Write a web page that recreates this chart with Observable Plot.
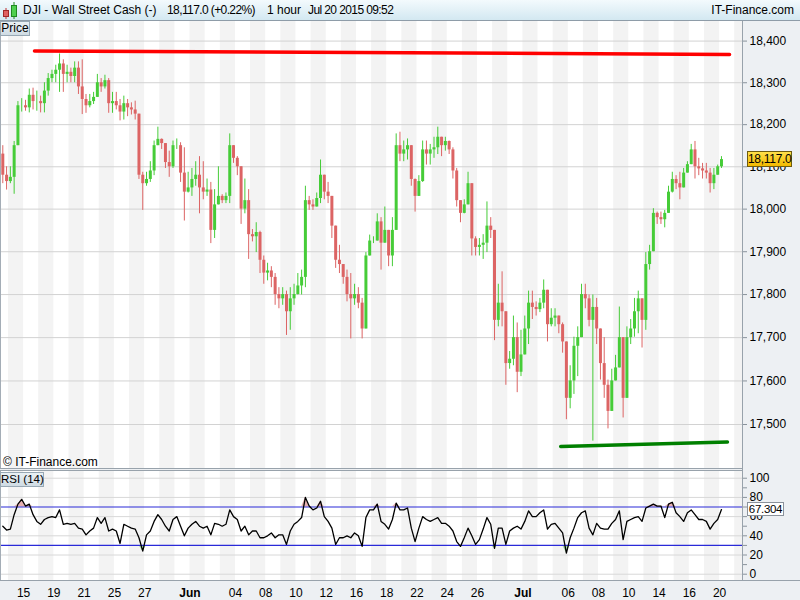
<!DOCTYPE html>
<html><head><meta charset="utf-8">
<script src="https://cdn.jsdelivr.net/npm/d3@7"></script>
<script src="https://cdn.jsdelivr.net/npm/@observablehq/plot@0.6"></script>
<style>
body{margin:0;width:800px;height:600px;position:relative;overflow:hidden;background:#fff;font-family:"Liberation Sans",Arial,sans-serif;color:#000;}
.abs{position:absolute;}
#hdr{left:0;top:0;width:800px;height:21px;background:linear-gradient(#f3fafd,#d3e8f1);border-bottom:1px solid #8e9ca8;box-sizing:border-box;font-size:12px;}
#hdr span{position:absolute;top:3px;white-space:pre;}
#hdr span.num{letter-spacing:-0.6px;}
#rpanel{left:742px;top:21px;width:58px;height:579px;background:#edf0f3;border-left:1px solid #98a2ab;box-sizing:border-box;}
#bpanel{left:0;top:580px;width:800px;height:20px;background:#edf0f3;border-top:1px solid #98a2ab;box-sizing:border-box;}
#lborder{left:0;top:21px;width:1px;height:559px;background:#a4adb6;}
#divider{left:0;top:468px;width:742px;height:3px;border-top:1px solid #98a2ab;border-bottom:1px solid #98a2ab;box-sizing:border-box;background:#edf0f3;}
.box{font-size:12px;background:linear-gradient(#eaf1f5,#cfdbe3);border:1px solid #98a8b4;box-sizing:border-box;text-align:center;line-height:13px;white-space:nowrap;}
#pricetag{left:747px;top:151px;width:45px;height:16px;background:linear-gradient(#ffe04a,#f2b900);border:1px solid #6e5c10;box-sizing:border-box;font-size:12px;line-height:14px;text-align:center;letter-spacing:-0.3px;}
#rsitag{left:747px;top:502px;width:37px;height:14px;background:#fff;border:1px solid #8a929b;box-sizing:border-box;font-size:11.5px;line-height:12px;text-align:center;letter-spacing:-0.3px;}
#copy{left:3px;top:455px;font-size:12px;}
</style></head>
<body>
<div id="rpanel" class="abs"></div>
<div id="bpanel" class="abs"></div>
<div id="main" class="abs" style="left:0;top:20px;"></div>
<div id="rsi" class="abs" style="left:0;top:471px;"></div>
<div id="lborder" class="abs"></div>
<div id="divider" class="abs"></div>
<div id="hdr" class="abs">
  <svg class="abs" style="left:2px;top:1px" width="18" height="18">
    <line x1="4" y1="7" x2="4" y2="18" stroke="#c03030"/>
    <rect x="1.5" y="9.5" width="5" height="6" fill="#e06060" stroke="#a02828"/>
    <line x1="12" y1="1" x2="12" y2="18" stroke="#208a20"/>
    <rect x="9.5" y="4.5" width="5" height="11" fill="#4fd04f" stroke="#208a20"/>
  </svg>
  <span style="left:23px">DJI - Wall Street Cash (-)</span>
  <span class="num" style="left:167px">18,117.0 (+0.22%)</span>
  <span style="left:267px">1 hour</span>
  <span class="num" style="left:308px">Jul 20 2015 09:52</span>
  <span style="right:6px">IT-Finance.com</span>
</div>
<div class="abs box" style="left:0;top:21px;width:30px;height:15px;">Price</div>
<div class="abs box" style="left:0;top:472px;width:44px;height:15px;font-size:11.5px;">RSI (14)</div>
<div id="copy" class="abs">© IT-Finance.com</div>
<div id="pricetag" class="abs">18,117.0</div>
<div id="rsitag" class="abs">67.304</div>
<script>
// ---- data (6-hour bars; trading-day index, 0 = May 15) ----
const firstBarT = -1.375;   // first bar position on the trading-day axis
const barStep = 0.25;       // 4 bars per trading day
const firstOpen = 18130;
const closes = [18080,18065,18075,18150,18245,18245,18240,18270,18255,18255,18250,18280,18310,18320,18330,18345,18320,18325,18315,18335,18290,18260,18245,18255,18265,18300,18290,18305,18250,18255,18245,18230,18250,
18240,18235,18225,18080,18060,18070,18090,18150,18165,18155,18110,18100,18150,18150,18085,18040,18050,18070,18080,18050,18040,18045,17950,18010,18030,18020,18030,18150,18120,18100,18000,18020,
17940,17935,17945,17880,17850,17855,17840,17800,17790,17800,17760,17790,17800,17820,17840,18020,18010,18005,18025,18080,18040,18030,17960,17880,17870,17840,17800,17790,17800,17780,17720,
17890,17925,17925,17970,17920,17950,17890,17950,18150,18130,18140,18150,18070,18030,18065,18140,18130,18140,18145,18170,18150,18160,18140,18090,18020,17990,18010,18060,17930,17910,17915,17920,
17960,17950,17740,17780,17760,17640,17650,17700,17620,17660,17720,17780,17770,17765,17780,17810,17730,17745,17750,17730,17690,17560,17600,17680,17700,17800,17790,17740,17770,17720,17640,17590,
17530,17600,17630,17700,17560,17700,17720,17760,17790,17740,17870,17900,17990,17980,17975,17990,18040,18070,18060,18050,18085,18105,18140,18100,18095,18090,18085,18060,18080,18100,18117];
const highs = [18150,18100,18100,18160,18255,18262,18258,18285,18287,18280,18268,18300,18322,18330,18342,18369,18355,18342,18335,18350,18350,18355,18272,18272,18277,18320,18310,18318,18310,18277,18277,18260,18268,
18260,18252,18256,18223,18087,18087,18112,18161,18194,18166,18153,18137,18161,18166,18157,18145,18087,18096,18112,18124,18112,18071,18063,18046,18100,18034,18038,18178,18145,18124,18096,18071,
18046,17952,17968,17948,17890,17873,17865,17849,17816,17816,17808,17816,17824,17849,17857,18054,18030,18022,18038,18116,18079,18063,18030,17940,17915,17865,17857,17849,17824,17816,17791,
17898,17939,17935,17989,17980,18005,17931,17980,18178,18182,18161,18166,18129,18071,18079,18161,18161,18153,18170,18194,18170,18170,18161,18145,18096,18013,18022,18087,18054,17935,17931,17940,
18017,17980,17767,17824,17853,17725,17668,17750,17734,17717,17750,17808,17808,17783,17791,17834,17808,17767,17767,17750,17734,17594,17635,17701,17725,17824,17824,17799,17799,17791,17701,17700,
17602,17627,17659,17771,17659,17725,17742,17791,17808,17767,17898,17915,18001,17993,17993,17997,18054,18087,18079,18087,18096,18112,18153,18160,18120,18108,18108,18096,18096,18104,18124];
const lows = [18060,18045,18060,18035,18180,18230,18232,18228,18235,18232,18228,18228,18268,18300,18300,18277,18277,18300,18300,18300,18272,18224,18227,18240,18248,18268,18277,18285,18227,18227,18235,18209,18211,
18219,18223,18211,18070,17997,18054,18063,18079,18153,18141,18096,18075,18096,18141,18063,17972,18038,18030,18054,17989,18022,18030,17919,17931,18022,18013,18013,18013,18108,18079,17964,17989,
17882,17923,17898,17849,17824,17832,17816,17775,17767,17775,17705,17717,17775,17799,17799,17816,17997,17997,18005,18013,18022,18013,17931,17861,17849,17824,17783,17697,17775,17767,17697,
17767,17890,17919,17931,17857,17931,17865,17865,17980,18112,18112,18116,18054,17993,18059,18063,18104,18104,18120,18129,18124,18137,18129,18071,18005,17968,17989,18013,17890,17890,17890,17882,
17898,17931,17693,17725,17725,17590,17627,17635,17573,17610,17668,17684,17742,17750,17758,17767,17690,17725,17725,17709,17664,17511,17536,17569,17610,17725,17767,17725,17462,17684,17602,17560,
17490,17536,17602,17643,17515,17635,17684,17701,17709,17676,17717,17857,17931,17964,17964,17956,18013,18038,18046,18022,18063,18087,18120,18071,18079,18071,18071,18038,18046,18087,18096];
const rsiValues = [50,46,47,62,73,78,71,73,62,55,52,57,59,60,59,67,52,53,52,53,48,47,41,45,48,59,53,59,45,47,45,32,52,
50,48,47,38,24,41,45,55,62,57,50,45,57,60,50,40,48,52,55,50,48,50,41,53,52,50,52,67,60,57,45,50,
41,45,45,38,38,40,43,38,41,41,31,45,52,55,59,80,71,67,69,76,60,55,48,31,38,38,40,38,43,40,29,
59,67,67,73,55,52,47,57,74,67,67,69,48,34,48,60,57,55,57,59,53,53,50,45,34,29,38,48,40,31,36,47,
59,52,27,48,48,31,45,48,50,47,55,66,60,60,64,67,47,52,53,48,43,22,38,48,59,64,66,48,41,53,48,47,
47,53,57,66,36,55,57,59,60,55,69,71,73,71,71,59,73,75,64,60,55,64,67,62,57,57,55,47,53,57,67.304];

const priceTicks = [17500,17600,17700,17800,17900,18000,18100,18200,18300,18400];
const rsiTicks = [0,20,40,60,80,100];
const rsiMinorTicks = [10,30,50,70,90];
const rsiLevels = [30,70];
const tickDays = [0,2,4,6,8,11,14,16,18,20,22,24,26,28,30,33,36,38,40,42,44,46];
const tickLabels = ["15","19","21","25","27","Jun","04","08","10","12","16","18","22","24","26","Jul","06","08","10","14","16","20"];
const resistanceT = [0.72, 46.66], resistanceP = [18376, 18368];
const supportT = [35.5, 46.52], supportP = [17450, 17460];
const stripeDays = d3.range(-2, 48);

// ---- build tables ----
const xMin = -1.527, xMax = 47.515;
const bars = closes.map((c, i) => {
  const o = i ? closes[i-1] : firstOpen;
  return {t: firstBarT + i*barStep, o, c, lo: Math.min(lows[i], o, c), hi: Math.max(highs[i], o, c)};
});
const up = bars.filter(b => b.c >= b.o), down = bars.filter(b => b.c < b.o);
const rsiData = rsiValues.map((r, i) => ({t: firstBarT + i*barStep, r}));
const stripe = d => ({a: Math.max(d, xMin), b: Math.min(d+1, xMax)});
const oddStripes = stripeDays.filter(d => Math.abs(d % 2) === 1).map(stripe);
const evenStripes = stripeDays.filter(d => d % 2 === 0).map(stripe);
const labelMap = new Map(tickDays.map((d, i) => [d, tickLabels[i]]));
const res = resistanceT.map((t, i) => ({t, p: resistanceP[i]}));
const sup = supportT.map((t, i) => ({t, p: supportP[i]}));
const GREEN = "#46cc38", RED = "#dc6464";
const stripeMarks = [
  Plot.rect(evenStripes, {x1: "a", x2: "b", fill: "#ffffff"}),
  Plot.rect(oddStripes, {x1: "a", x2: "b", fill: "#f3f3f3"})
];

const main = Plot.plot({
  width: 800, height: 448, marginLeft: 0, marginRight: 58, marginTop: 0, marginBottom: 0,
  style: {background: "transparent", fontFamily: "Liberation Sans, Arial, sans-serif", color: "#000"},
  x: {domain: [xMin, xMax], axis: null},
  y: {type: "log", domain: [17399.6, 18449.6], axis: null},
  marks: [
    ...stripeMarks,
    Plot.gridY(priceTicks, {stroke: "#d2d2d2", strokeOpacity: 1}),
    Plot.axisY(priceTicks, {anchor: "right", label: null, tickSize: 4, tickPadding: 3, fontSize: 12, tickFormat: d3.format(","), stroke: "#8a939c"}),
    Plot.ruleX(up, {x: "t", y1: "lo", y2: "hi", stroke: GREEN, strokeWidth: 1}),
    Plot.ruleX(up, {x: "t", y1: "o", y2: "c", stroke: GREEN, strokeWidth: 3}),
    Plot.ruleX(down, {x: "t", y1: "lo", y2: "hi", stroke: RED, strokeWidth: 1}),
    Plot.ruleX(down, {x: "t", y1: "o", y2: "c", stroke: RED, strokeWidth: 3}),
    Plot.line(res, {x: "t", y: "p", stroke: "#ff0000", strokeWidth: 3.5}),
    Plot.line(sup, {x: "t", y: "p", stroke: "#008000", strokeWidth: 3.5})
  ]
});
document.getElementById("main").appendChild(main);

const rsi = Plot.plot({
  width: 800, height: 129, marginLeft: 0, marginRight: 58, marginTop: 0, marginBottom: 20,
  style: {background: "transparent", fontFamily: "Liberation Sans, Arial, sans-serif", color: "#000"},
  x: {domain: [xMin, xMax], axis: null},
  y: {domain: [-6.56, 107], axis: null},
  marks: [
    ...stripeMarks,
    Plot.gridY(rsiTicks, {stroke: "#d8d8d8", strokeOpacity: 1}),
    Plot.areaY(rsiData, {x: "t", y1: 70, y2: d => Math.max(70, d.r), fill: "#e6b0b0"}),
    Plot.areaY(rsiData, {x: "t", y1: 30, y2: d => Math.min(30, d.r), fill: "#a6daa6"}),
    Plot.ruleY(rsiLevels, {stroke: "#2a2ad8", strokeWidth: 1.2}),
    Plot.line(rsiData, {x: "t", y: "r", stroke: "#000", strokeWidth: 1.3}),
    Plot.axisY(rsiTicks, {anchor: "right", label: null, tickSize: 4, tickPadding: 3, fontSize: 12, stroke: "#8a939c"}),
    Plot.axisY(rsiMinorTicks, {anchor: "right", label: null, tickSize: 4, tickFormat: () => "", stroke: "#8a939c"}),
    Plot.axisX(tickDays, {anchor: "bottom", label: null, tickSize: 0, tickPadding: 8, fontSize: 12, tickFormat: d => labelMap.get(d)})
  ]
});
document.getElementById("rsi").appendChild(rsi);
d3.select(rsi).selectAll("text").filter(function() { return this.textContent === "Jun" || this.textContent === "Jul"; }).attr("font-weight", "bold");
</script>
</body></html>
